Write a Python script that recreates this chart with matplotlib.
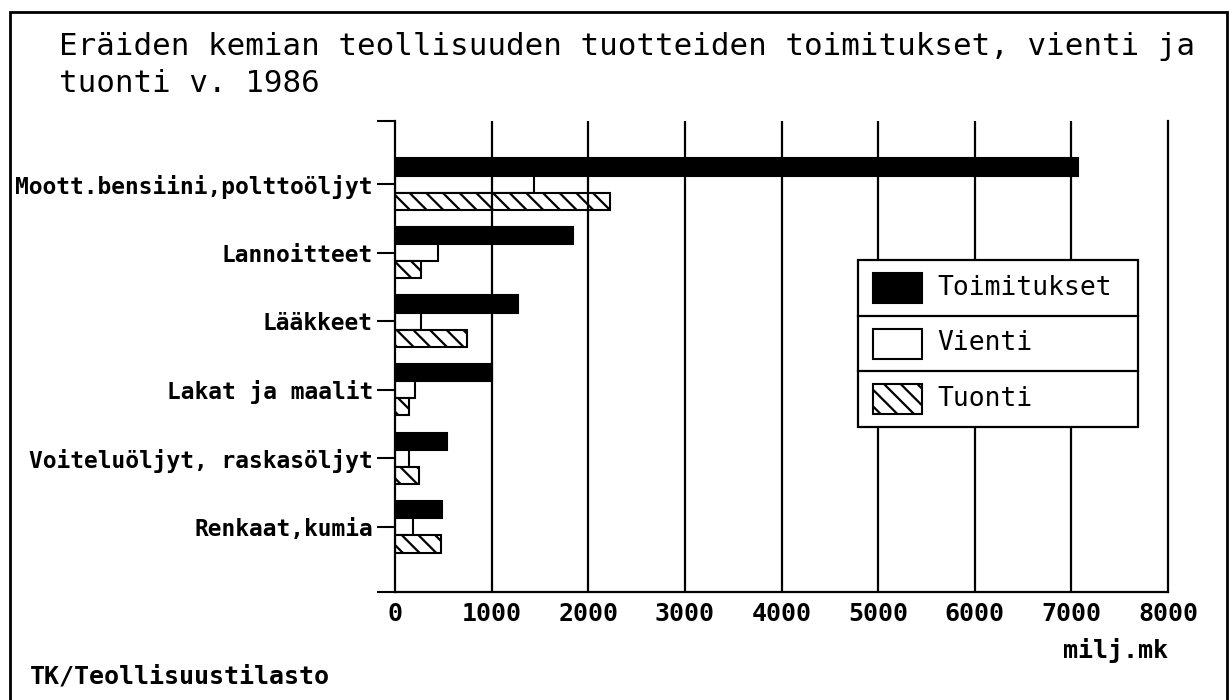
import matplotlib
matplotlib.use("Agg")
import matplotlib.pyplot as plt
from matplotlib.patches import Rectangle
import numpy as np

# data (milj.mk, 1986)
categories = ["Moott.bensiini,polttoöljyt", "Lannoitteet", "Lääkkeet",
              "Lakat ja maalit", "Voiteluöljyt, raskasöljyt", "Renkaat,kumia"]
toimitukset = [7070, 1840, 1270, 1000, 540, 490]
vienti = [1440, 450, 270, 210, 140, 190]
tuonti = [2220, 270, 750, 150, 250, 480]
series_names = ["Toimitukset", "Vienti", "Tuonti"]
xticks = [0, 1000, 2000, 3000, 4000, 5000, 6000, 7000, 8000]

plt.rcParams['font.family'] = ['DejaVu Sans Mono']
plt.rcParams['hatch.linewidth'] = 1.6

W, H = 1229, 700
fig = plt.figure(figsize=(W / 100, H / 100), dpi=100)
fig.patch.set_facecolor("white")

# axes placed by pixel box
L, R, T, B = 395, 1168, 121, 592
ax = fig.add_axes([L / W, 1 - B / H, (R - L) / W, (B - T) / H])

y = np.arange(len(categories))
h = 0.25
hatch = "\\\\"
ax.barh(y - h, toimitukset, height=h, color="black", edgecolor="black", linewidth=1.5, zorder=2)
ax.barh(y, vienti, height=h, color="white", edgecolor="black", linewidth=1.5, zorder=2)
ax.barh(y + h, tuonti, height=h, color="white", edgecolor="black", linewidth=1.5,
        hatch=hatch, zorder=2)

ax.set_xlim(0, 8000)
ylo, yhi = -0.92, 5.95
ax.set_ylim(yhi, ylo)

for xv in xticks[1:-1]:
    ax.axvline(xv, color="black", linewidth=1.6, zorder=3)

ax.set_xticks(xticks)
ax.set_xticklabels([str(v) for v in xticks], fontsize=18, fontweight="bold")
ax.tick_params(axis="x", length=0, pad=7)

ax.set_yticks([ylo] + list(y) + [yhi])
ax.set_yticklabels([""] + categories + [""], fontsize=16.5, fontweight="bold")
ax.tick_params(axis="y", length=13, width=1.5, pad=3, direction="out")

ax.spines["top"].set_visible(False)
for s in ["left", "bottom", "right"]:
    ax.spines[s].set_linewidth(1.6)
    ax.spines[s].set_zorder(4)

# title and texts
fig.text(59 / W, 1 - 55 / H, "Eräiden kemian teollisuuden tuotteiden toimitukset, vienti ja",
         fontsize=22.2, va="baseline", ha="left")
fig.text(59 / W, 1 - 92 / H, "tuonti v. 1986", fontsize=22.2, va="baseline", ha="left")
fig.text(1168 / W, 1 - 658 / H, "milj.mk", fontsize=18, fontweight="bold",
         va="baseline", ha="right")
fig.text(30 / W, 1 - 683 / H, "TK/Teollisuustilasto", fontsize=18, fontweight="bold",
         va="baseline", ha="left")

# legend box with row separators
lx0, lx1, ly0, ly1 = 858, 1138, 260, 427
fig.patches.append(Rectangle((lx0 / W, 1 - ly1 / H), (lx1 - lx0) / W, (ly1 - ly0) / H,
                             transform=fig.transFigure, facecolor="white",
                             edgecolor="black", linewidth=1.6, zorder=5))
rowh = (ly1 - ly0) / 3
styles = [dict(facecolor="black"), dict(facecolor="white"), dict(facecolor="white", hatch=hatch)]
for i, (name, st) in enumerate(zip(series_names, styles)):
    top = ly0 + i * rowh
    if i > 0:
        fig.add_artist(plt.Line2D([lx0 / W, lx1 / W], [1 - top / H, 1 - top / H],
                                  color="black", linewidth=1.6, zorder=6))
    cy = top + rowh / 2
    fig.patches.append(Rectangle((873 / W, 1 - (cy + 15) / H), 49 / W, 30 / H,
                                 transform=fig.transFigure, edgecolor="black",
                                 linewidth=1.5, zorder=6, **st))
    fig.text(937 / W, 1 - cy / H, name, fontsize=19, va="center", ha="left", zorder=7)

# outer frame
fig.patches.append(Rectangle((10 / W, -0.05), (1227 - 10) / W, 1.05 - 12 / H,
                             transform=fig.transFigure, facecolor="none",
                             edgecolor="black", linewidth=2, zorder=8))

fig.savefig("out.png", dpi=100)
